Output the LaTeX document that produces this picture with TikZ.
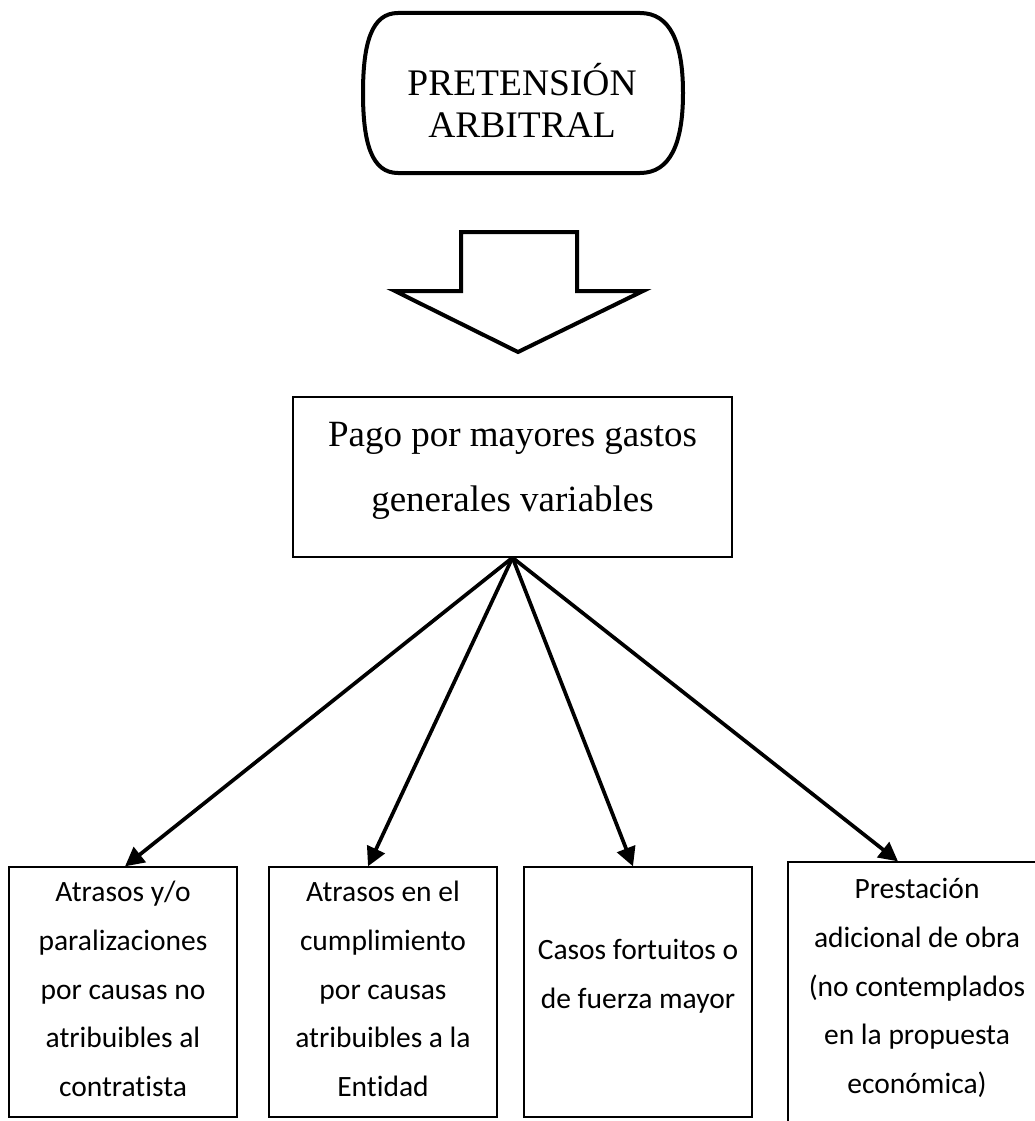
\documentclass[tikz,border=0pt]{standalone}
\usepackage{fontspec}
\setmainfont{Liberation Serif}
\newfontfamily\boxfont[Ligatures=NoCommon]{Carlito}
\usetikzlibrary{arrows.meta}
\begin{document}
\begin{tikzpicture}[x=1pt,y=-1pt,
  heavy/.style={line width=4pt},
  causebox/.style={draw, line width=1.3pt, minimum width=228pt, minimum height=250pt, inner sep=0pt},
  causetext/.style={font=\boxfont\fontsize{29.5}{48.75}\selectfont, align=center, inner sep=0pt},
  fan/.style={line width=3.7pt, -{Triangle[length=19pt,width=19pt]}}]
\clip (0,0) rectangle (1035,1121);

% terminator at the top
\draw[heavy] (398,13) -- (640,13)
  .. controls (670,13) and (683,42) .. (683,93)
  .. controls (683,144) and (670,173) .. (640,173) -- (398,173)
  .. controls (372,173) and (363,144) .. (363,93)
  .. controls (363,42) and (372,13) .. (398,13) -- cycle;
\node[font=\fontsize{37.5}{41.5}\selectfont, align=center, inner sep=0pt] (title) at (522,100.5) {PRETENSIÓN\\ARBITRAL};

% hollow block arrow
\draw[heavy, line join=miter] (461,232) -- (577,232) -- (577,291) -- (643,291) -- (518,352)
  -- (395,291) -- (461,291) -- cycle;

% central box
\node[draw, line width=1.3pt, minimum width=439pt, minimum height=160pt, inner sep=0pt] (pago) at (512.5,477) {};
\node[font=\fontsize{37}{65}\selectfont, align=center, inner sep=0pt] (pagotext) at (512.5,471) {Pago por mayores gastos\\generales variables};

% cause boxes
\node[causebox] (b1) at (123,992) {};
\node[causebox] (b2) at (383,992) {};
\node[causebox] (b3) at (638,992) {};
\node[causebox, minimum width=258pt, minimum height=270pt] (b4) at (917,997) {};

\node[causetext] (t1) at (123,989) {Atrasos y/o\\paralizaciones\\por causas no\\atribuibles al\\contratista};
\node[causetext] (t2) at (383,989) {Atrasos en el\\cumplimiento\\por causas\\atribuibles a la\\Entidad};
\node[causetext] (t3) at (638,976.5) {Casos fortuitos o\\de fuerza mayor};
\node[causetext] (t4) at (917,988) {Prestación\\adicional de obra\\(no contemplados\\en la propuesta\\económica)};

% connectors
\draw[fan] (pago.south) -- ([xshift=2pt]b1.north);
\draw[fan] (pago.south) -- ([xshift=-15pt]b2.north);
\draw[fan] (pago.south) -- ([xshift=-5pt]b3.north);
\draw[fan] (pago.south) -- ([xshift=-19pt]b4.north);
\end{tikzpicture}
\end{document}
